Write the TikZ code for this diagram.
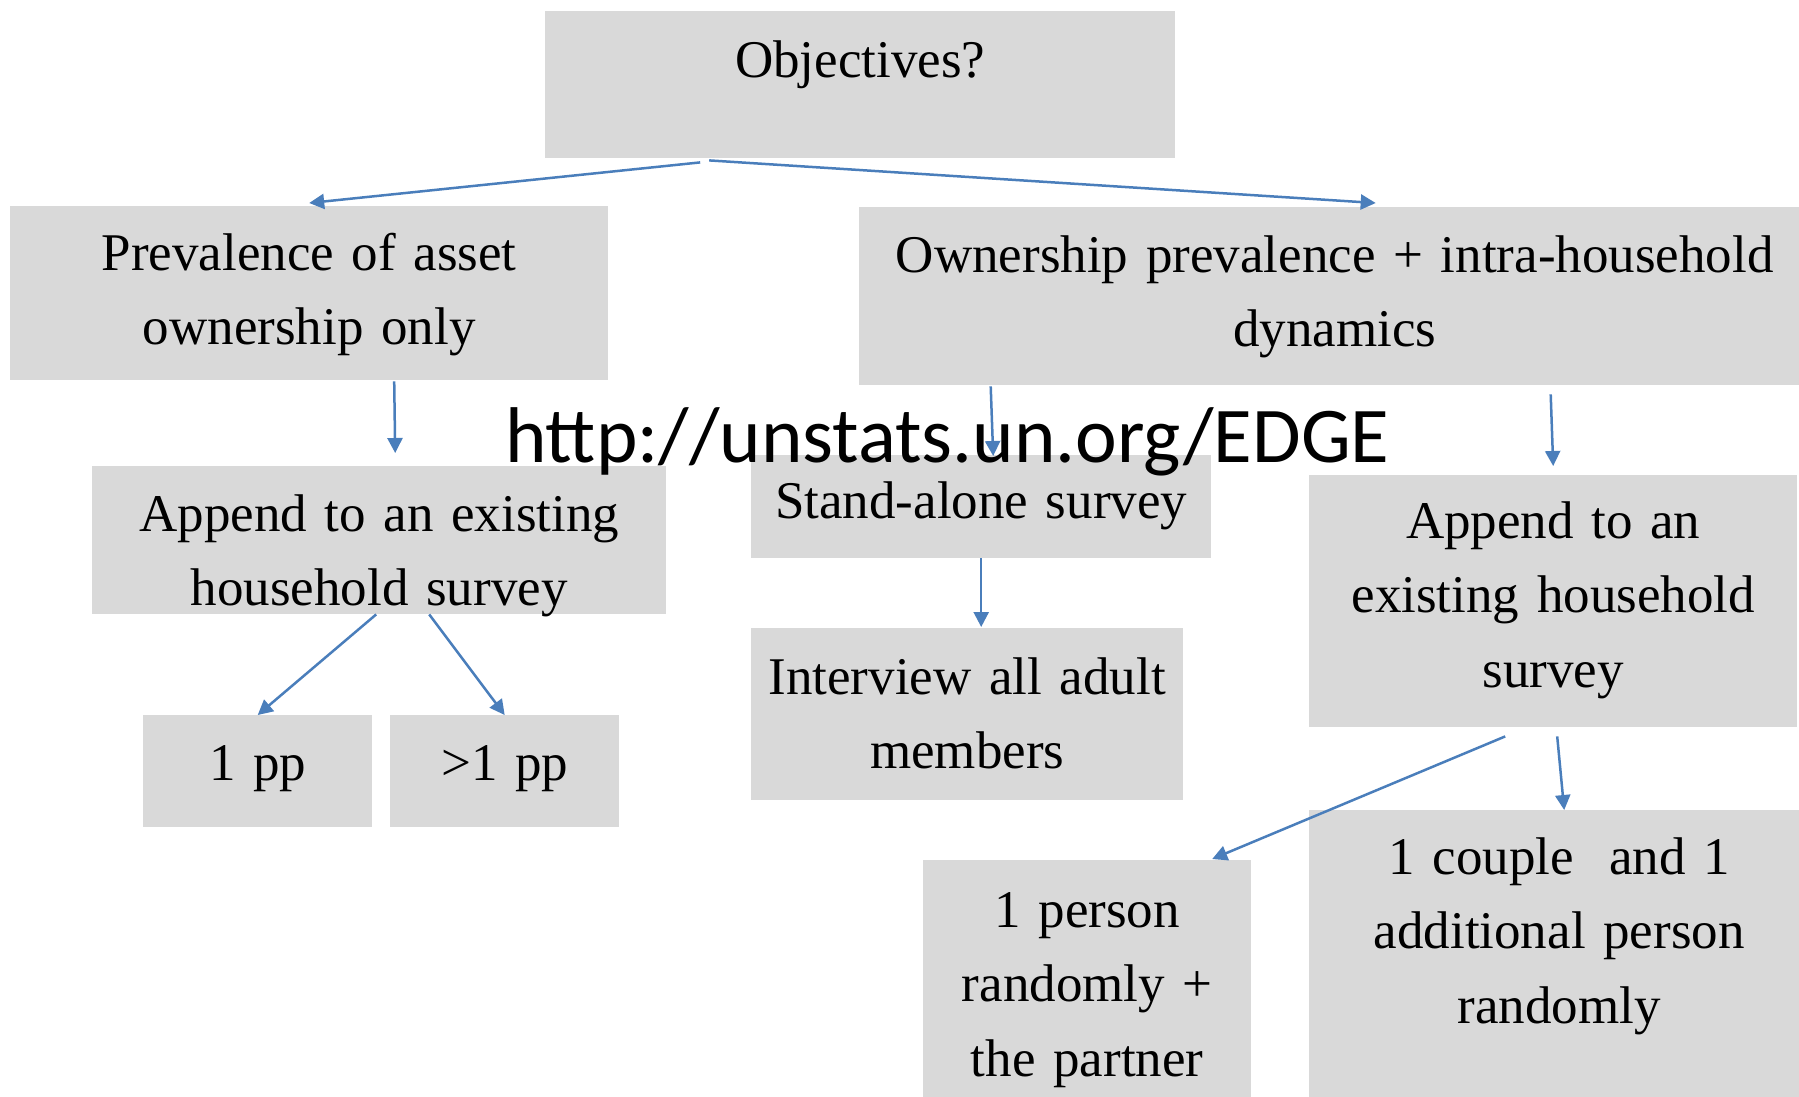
\documentclass[tikz,border=0pt]{standalone}
\usepackage{fontspec}
\setmainfont{Liberation Serif}
\newfontfamily\urlfont{Carlito}
\usetikzlibrary{arrows.meta}
\definecolor{boxgray}{HTML}{D9D9D9}
\definecolor{linkblue}{HTML}{4A7EBB}
\begin{document}
\begin{tikzpicture}[x=1pt, y=-1pt,
    box/.style={fill=boxgray, inner sep=0pt, anchor=north west, align=center,
                font=\fontsize{53}{74.5}\selectfont},
    conn/.style={draw=linkblue, line width=2.5pt, -{Triangle[length=15pt,width=15pt]}, linkblue}]

\useasboundingbox (0,0) rectangle (1799,1096);
\clip (0,0) rectangle (1799,1096);

\node[box, text width=630pt, text height=66pt, text depth=81pt] (obj) at (545,11) {Objectives?};

\node[box, text width=598pt, text height=64pt, text depth=110pt] (prev) at (10,206) {Prevalence of asset\\ownership only};
\node[box, text width=951pt, text height=65pt, text depth=113pt] (own) at (859,207) {Ownership prevalence + intra-household\\dynamics};

\node[box, text width=574pt, text height=65pt, text depth=83pt] (appL) at (92,466) {Append to an existing\\household survey};
\node[box, text width=460pt, text height=63pt, text depth=40pt] (stand) at (751,455) {Stand-alone survey};
\node[box, text width=488pt, text height=63pt, text depth=189pt] (appR) at (1309,475) {Append to an\\existing household\\survey};

\node[box, text width=229pt, text height=65pt, text depth=47pt] (onepp) at (143,715) {1 pp};
\node[box, text width=229pt, text height=65pt, text depth=47pt] (morepp) at (390,715) {>1 pp};
\node[box, text width=432pt, text height=66pt, text depth=106pt] (allad) at (751,628) {Interview all adult\\members};

\node[box, text width=328pt, text height=67pt, text depth=183pt] (person) at (923,860) {1 person\\randomly +\\the partner};
\node[box, text width=500pt, text height=64pt, text depth=236pt] (couple) at (1309,810) {1 couple~ and 1\\additional person\\randomly};

\node[anchor=base west, inner sep=0pt, font=\urlfont\fontsize{79}{79}\selectfont] (url) at (505,462) {http://unstats.un.org/EDGE};

\draw[conn] ([xshift=-160pt,yshift=-4pt]obj.south) -- ([yshift=3pt]prev.north);
\draw[conn] ([xshift=-151pt,yshift=-2pt]obj.south) -- ([xshift=41pt,yshift=4pt]own.north);
\draw[conn] ([xshift=85pt,yshift=-1pt]prev.south) -- ([xshift=86pt,yshift=13pt]prev.south |- appL.north);
\draw[conn] ([xshift=-344pt,yshift=-1pt]own.south) -- ([xshift=12pt,yshift=-1pt]stand.north);
\draw[conn] ([xshift=216pt,yshift=-9pt]own.south) -- ([yshift=9pt]appR.north);
\draw[conn] ([xshift=-3pt]appL.south) -- (onepp.north);
\draw[conn] ([xshift=50pt]appL.south) -- (morepp.north);
\draw[conn] (stand.south) -- ([xshift=14pt,yshift=1pt]allad.north);
\draw[conn] ([xshift=-48pt,yshift=-9pt]appR.south) -- ([xshift=125pt,yshift=1pt]person.north);
\draw[conn] ([xshift=4pt,yshift=-9pt]appR.south) -- ([xshift=5pt]couple.north);

\end{tikzpicture}
\end{document}
